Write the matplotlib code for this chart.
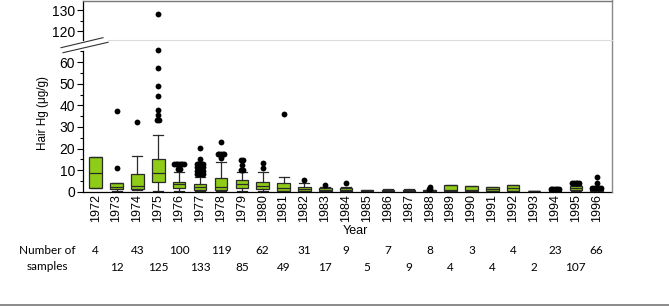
import numpy as np
import matplotlib.pyplot as plt
from matplotlib.lines import Line2D

plt.rcParams['font.family'] = ['Liberation Sans', 'DejaVu Sans']

years = list(range(1972, 1997))
q1 = [1.5, 1.1, 1.4, 4.6, 1.9, 1.0, 1.0, 1.9, 1.3, 0.5, 0.4, 0.3, 0.3,
      0.2, 0.2, 0.3, 0.2, 0.5, 0.3, 0.3, 0.3, 0.3, 0.3, 1.0, 0.4]
med = [8.7, 2.3, 2.6, 8.8, 3.4, 2.3, 2.3, 3.4, 2.8, 1.5, 1.2, 0.8, 0.8,
       0.4, 0.5, 0.5, 0.5, 1.0, 1.0, 1.2, 1.5, 0.4, 0.6, 1.6, 0.8]
q3 = [16.2, 4.2, 8.1, 15.2, 4.6, 3.4, 6.2, 5.4, 4.6, 3.9, 2.3, 1.6, 1.5,
      0.7, 1.0, 1.0, 0.8, 3.2, 2.6, 2.0, 3.1, 0.5, 0.9, 2.5, 1.4]
whislo = [1.5, 0.5, 1.0, 0.5, 0.5, 0.3, 0.3, 0.5, 0.3, 0.2, 0.1, 0.1, 0.1,
          0.1, 0.1, 0.1, 0.1, 0.5, 0.3, 0.3, 0.3, 0.3, 0.1, 0.3, 0.1]
whishi = [16.2, 4.2, 16.5, 26.3, 9.3, 6.6, 13.6, 9.3, 9.0, 6.7, 4.2, 2.2, 2.0,
          0.8, 1.2, 1.1, 1.0, 3.2, 2.6, 2.0, 3.1, 0.5, 1.0, 3.0, 1.4]
fliers = [
    [],
    [10.8, 37.2],
    [32.2],
    [33.2, 33.2, 35.5, 37.9, 44.2, 49.2, 57.1, 65.8, 128.2],
    [10.3] * 2 + [12.8] * 7,
    [8.2] * 5 + [9.7] * 5 + [11.3] * 5 + [12.8] * 5 + [15.3, 20.1],
    [15.5] + [17.6] * 5 + [23.2],
    [10.0] * 2 + [12.6] + [14.9] * 2,
    [11.2, 13.5],
    [36.2],
    [5.4],
    [3.1],
    [4.2],
    [], [], [],
    [1.4, 1.4, 2.2],
    [], [], [], [], [],
    [1.2] * 6,
    [4.0] * 5,
    [1.6] * 6 + [3.9, 6.7],
]
n_samples = [4, 12, 43, 125, 100, 133, 119, 85, 62, 49, 31, 17, 9,
             5, 7, 9, 8, 4, 3, 4, 4, 2, 23, 107, 66]

green = '#8fcc17'
edge = '#2a2a2a'

W, H = 669, 306
fig = plt.figure(figsize=(W / 100, H / 100), dpi=100)

def fx(px):
    return px / W

def fy(px):
    return 1 - px / H

L, R = 82.7, 611.7
ax_top = fig.add_axes([fx(L), fy(40), fx(R) - fx(L), fy(0.5) - fy(40)])
ax = fig.add_axes([fx(L), fy(191.7), fx(R) - fx(L), fy(51.4) - fy(191.7)])

pos = np.arange(len(years))
stats = []
for i in range(len(years)):
    stats.append(dict(q1=q1[i], med=med[i], q3=q3[i], whislo=whislo[i],
                      whishi=whishi[i], fliers=[]))

for a in (ax, ax_top):
    a.bxp(stats, positions=pos, widths=0.6, capwidths=0.48, patch_artist=True,
          showfliers=False,
          boxprops=dict(facecolor=green, edgecolor=edge, linewidth=0.9),
          medianprops=dict(color=edge, linewidth=0.9),
          whiskerprops=dict(color=edge, linewidth=0.9),
          capprops=dict(color=edge, linewidth=0.9))
    a.set_xlim(-0.62, 24.72)

# outliers, identical values spread sideways
for i, vals in enumerate(fliers):
    uniq = sorted(set(vals))
    for v in uniq:
        k = vals.count(v)
        xs = pos[i] + (np.arange(k) - (k - 1) / 2) * 0.08
        target = ax_top if v > 100 else ax
        target.plot(xs, [v] * k, 'o', color='black', markersize=4.2,
                    markeredgewidth=0, clip_on=False, zorder=5)

ax.set_ylim(0, 65)
ax_top.set_ylim(116, 134.5)

ax.set_yticks(range(0, 61, 10))
ax.set_yticks(range(5, 66, 10), minor=True)
ax_top.set_yticks([120, 130])
ax_top.set_yticks([125], minor=True)

for a in (ax, ax_top):
    a.tick_params(axis='y', which='major', length=4, width=0.8, labelsize=10, pad=1.5)
    a.tick_params(axis='y', which='minor', length=2, width=0.8)
    a.spines['right'].set_visible(False)
    a.spines['left'].set_linewidth(0.9)

ax.spines['top'].set_visible(False)
ax.spines['bottom'].set_linewidth(0.9)
ax.set_xticks(pos)
ax.set_xticklabels([str(y) for y in years], rotation=90, fontsize=9)
ax.tick_params(axis='x', length=0, pad=2)

ax_top.spines['bottom'].set_visible(False)
ax_top.spines['top'].set_color('#777777')
ax_top.spines['top'].set_linewidth(1.0)
ax_top.set_xticks([])

# frame pieces and axis break
fig.add_artist(Line2D([fx(R), fx(R)], [fy(0), fy(191.7)], color='#888888', lw=1.0))
fig.add_artist(Line2D([fx(108), fx(R)], [fy(40), fy(40)], color='#dddddd', lw=0.8))
fig.add_artist(Line2D([fx(61), fx(103)], [fy(47.7), fy(37.7)], color='#333333', lw=0.8))
fig.add_artist(Line2D([fx(63), fx(108)], [fy(52.7), fy(42.3)], color='#333333', lw=0.8))

fig.text(fx(43), fy(113.5), 'Hair Hg (μg/g)', rotation=90, ha='center', va='center', fontsize=8.5)
fig.text(fx(355.5), fy(231), 'Year', ha='center', va='center', fontsize=9)

# sample counts, alternating rows
cfont = ['Lato', 'DejaVu Sans']
fig.text(fx(47), fy(250), 'Number of', ha='center', va='center', fontsize=8.5, family=cfont)
fig.text(fx(47), fy(267), 'samples', ha='center', va='center', fontsize=8.5, family=cfont)
for i, n in enumerate(n_samples):
    xpx = L + (pos[i] + 0.62) / (24.72 + 0.62) * (R - L)
    ypx = 250 if i % 2 == 0 else 267.3
    fig.text(fx(xpx), fy(ypx), str(n), ha='center', va='center', fontsize=8.5, family=cfont)

fig.add_artist(Line2D([0, 1], [fy(305), fy(305)], color='#777777', lw=1.2))

fig.savefig('out.png', dpi=100)
